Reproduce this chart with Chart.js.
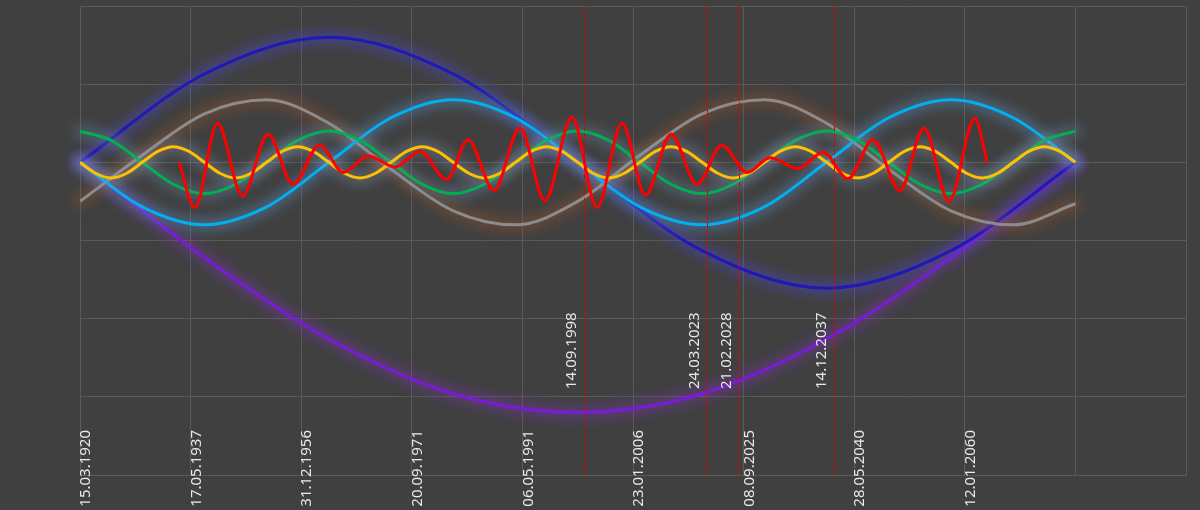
<!DOCTYPE html>
<html>
<head>
<meta charset="utf-8">
<script src="https://cdn.jsdelivr.net/npm/chart.js@4.4.1/dist/chart.umd.min.js"></script>
<style>
  html, body { margin: 0; padding: 0; background: #404040; }
  canvas { display: block; }
</style>
</head>
<body>
<canvas id="chart" width="1200" height="510"></canvas>
<script>
// Labels under the grid columns (last two columns have none)
const dateLabels = ['15.03.1920', '17.05.1937', '31.12.1956', '20.09.1971', '06.05.1991',
  '23.01.2006', '08.09.2025', '28.05.2040', '12.01.2060', '', ''];

// Smooth curves, read at even steps from the first column (0) to the ninth (9)
const darkBlueY = [0, 1.13, 1.6, 1.13, 0, -1.13, -1.61, -1.13, 0];
const purpleY = [0, -1.22, -2.26, -2.96, -3.2, -2.96, -2.26, -1.22, 0];
const lightBlueY = [0, -0.57, -0.8, -0.57, 0, 0.57, 0.8, 0.57, 0, -0.57, -0.8, -0.57, 0, 0.57, 0.8, 0.57, 0];
const grayY = [-0.5, 0.09, 0.62, 0.8, 0.5, -0.09, -0.62, -0.8, -0.5, 0.09, 0.62, 0.8, 0.5, -0.09, -0.62, -0.8, -0.53];
const greenY = [0.4, 0.28, 0, -0.28, -0.4, -0.28, 0, 0.28,
  0.4, 0.28, 0, -0.28, -0.4, -0.28, 0, 0.28,
  0.4, 0.28, 0, -0.28, -0.4, -0.28, 0, 0.28,
  0.4, 0.28, 0, -0.28, -0.4, -0.28, 0, 0.28, 0.4];
const yellowY = [0, -0.14, -0.2, -0.14, 0, 0.14, 0.2, 0.14,
  0, -0.14, -0.2, -0.14, 0, 0.14, 0.2, 0.14,
  0, -0.14, -0.2, -0.14, 0, 0.14, 0.2, 0.14,
  0, -0.14, -0.2, -0.14, 0, 0.14, 0.2, 0.14,
  0, -0.14, -0.2, -0.14, 0, 0.14, 0.2, 0.14,
  0, -0.14, -0.2, -0.14, 0, 0.14, 0.2, 0.14,
  0, -0.14, -0.2, -0.14, 0, 0.14, 0.2, 0.14,
  0, -0.14, -0.2, -0.14, 0, 0.14, 0.2, 0.14, 0];

// Red curve: its peaks and troughs
const redX = [0.895, 1.04, 1.243, 1.469, 1.70, 1.926, 2.165, 2.382, 2.604, 2.848, 3.074, 3.318,
  3.508, 3.743, 3.978, 4.204, 4.448, 4.675, 4.901, 5.113, 5.344, 5.579, 5.805, 6.031,
  6.239, 6.492, 6.718, 6.944, 7.170, 7.414, 7.631, 7.857, 8.092, 8.201];
const redY = [0, -0.58, 0.5, -0.43, 0.36, -0.28, 0.22, -0.13, 0.08, -0.06, 0.14, -0.22,
  0.29, -0.36, 0.44, -0.49, 0.58, -0.58, 0.5, -0.42, 0.36, -0.28, 0.22, -0.13,
  0.06, -0.08, 0.13, -0.21, 0.29, -0.36, 0.44, -0.5, 0.56, 0];

// Marked dates
const markerX = [4.557, 5.669, 5.958, 6.817];
const markerLabels = ['14.09.1998', '24.03.2023', '21.02.2028', '14.12.2037'];

// spread a curve's readings evenly over columns 0..9
const evenPoints = (ys) => ys.map((y, i) => ({ x: i * 9 / (ys.length - 1), y: y }));

const labelFont = '15px "Noto Sans"';
const textColor = '#e8e8e8';

// soft halo under the curves
const glowPlugin = {
    id: 'glow',
    beforeDatasetDraw(chart, args) {
        const ds = chart.data.datasets[args.index];
        if (!ds.glowColor) return;
        const ctx = chart.ctx;
        ctx.save();
        ctx.filter = 'blur(6px)';
        ctx.strokeStyle = ds.glowColor;
        ctx.lineWidth = 13;
        ctx.lineCap = 'round';
        ctx.beginPath();
        args.meta.dataset.path(ctx);
        ctx.stroke();
        ctx.restore();
    }
};

// rotated date labels along the bottom, drawn inside the plot like the original
const dateLabelPlugin = {
    id: 'dateLabels',
    afterDraw(chart) {
        const ctx = chart.ctx;
        const xScale = chart.scales.x;
        ctx.save();
        ctx.fillStyle = textColor;
        ctx.font = labelFont;
        ctx.textAlign = 'right';
        ctx.textBaseline = 'middle';
        dateLabels.forEach((txt, i) => {
            if (!txt) return;
            const px = xScale.getPixelForValue(i);
            ctx.save();
            ctx.translate(px + 6, 430);
            ctx.rotate(-Math.PI / 2);
            ctx.fillText(txt, 0, 0);
            ctx.restore();
        });
        ctx.restore();
    }
};

// dashed date markers
const markerPlugin = {
    id: 'markers',
    afterDatasetsDraw(chart) {
        const ctx = chart.ctx;
        const area = chart.chartArea;
        const xScale = chart.scales.x;
        ctx.save();
        markerX.forEach((v, i) => {
            const px = Math.round(xScale.getPixelForValue(v)) + 0.5;
            ctx.strokeStyle = '#e00000';
            ctx.lineWidth = 1;
            ctx.setLineDash([5, 3]);
            ctx.beginPath();
            ctx.moveTo(px, area.top);
            ctx.lineTo(px, area.bottom);
            ctx.stroke();

            ctx.save();
            ctx.translate(px - 13, 389);
            ctx.rotate(-Math.PI / 2);
            ctx.fillStyle = textColor;
            ctx.font = labelFont;
            ctx.textAlign = 'left';
            ctx.textBaseline = 'middle';
            ctx.fillText(markerLabels[i], 0, 0);
            ctx.restore();
        });
        ctx.restore();
    }
};

const line = (label, points, color, glow) => ({
    label: label,
    data: points,
    borderColor: color,
    borderWidth: 3,
    pointRadius: 0,
    fill: false,
    cubicInterpolationMode: 'monotone',
    glowColor: glow
});

const datasets = [
    line('red', redX.map((x, i) => ({ x: x, y: redY[i] })), '#ff0000', null),
    line('yellow', evenPoints(yellowY), '#ffc000', 'rgba(140,160,190,0.33)'),
    line('green', evenPoints(greenY), '#00b050', 'rgba(110,150,190,0.33)'),
    line('light blue', evenPoints(lightBlueY), '#00b0f0', 'rgba(90,150,210,0.4)'),
    line('gray', evenPoints(grayY), '#8c8c8c', 'rgba(160,85,40,0.4)'),
    line('dark blue', evenPoints(darkBlueY), '#2018b8', 'rgba(80,70,230,0.4)'),
    line('purple', evenPoints(purpleY), '#7a1adb', 'rgba(130,50,190,0.4)')
];

const config = {
    type: 'line',
    data: { datasets: datasets },
    options: {
        responsive: false,
        animation: false,
        layout: { padding: { left: 80, right: 14, top: 6, bottom: 35 } },
        plugins: {
            legend: { display: false },
            tooltip: { enabled: false }
        },
        scales: {
            x: {
                type: 'linear',
                min: 0,
                max: 10,
                grid: { color: '#5a5a5a', drawTicks: false },
                border: { color: '#5a5a5a' },
                ticks: { display: false, stepSize: 1 }
            },
            y: {
                min: -4,
                max: 2,
                grid: { color: '#5a5a5a', drawTicks: false },
                border: { display: false },
                ticks: { display: false, stepSize: 1 }
            }
        }
    },
    plugins: [glowPlugin, markerPlugin, dateLabelPlugin]
};

const chart = new Chart(document.getElementById('chart'), config);
</script>
</body>
</html>
